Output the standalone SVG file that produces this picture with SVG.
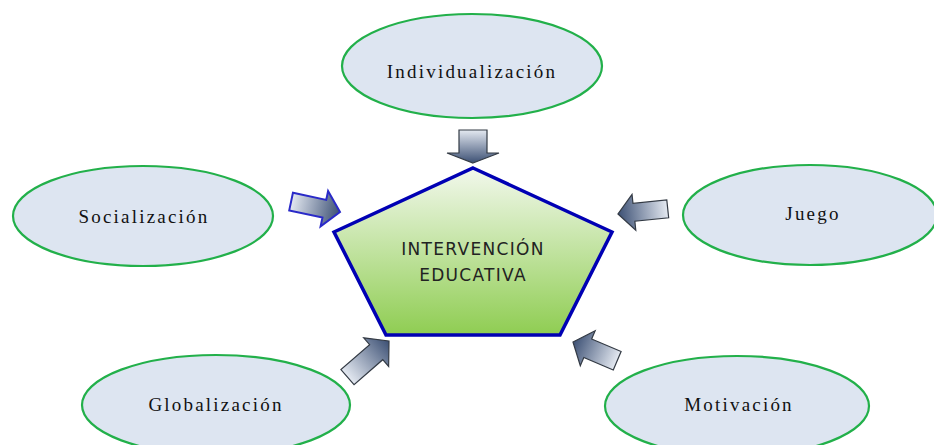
<svg xmlns="http://www.w3.org/2000/svg" width="934" height="445" viewBox="0 0 934 445">
<defs>
<linearGradient id="pentG" x1="0" y1="0" x2="0" y2="1">
<stop offset="0" stop-color="#f2f8ec"/>
<stop offset="1" stop-color="#8fcd52"/>
</linearGradient>
<linearGradient id="arrG" x1="0" y1="0" x2="1" y2="0">
<stop offset="0" stop-color="#e4e9f1"/>
<stop offset="1" stop-color="#3c5074"/>
</linearGradient>
<style>
.ell{fill:#dde5f1;stroke:#22b04a;stroke-width:2.2}
.lbl{font-family:"Liberation Serif","Times New Roman",serif;font-size:19px;letter-spacing:2.2px;fill:#111;text-anchor:middle}
.ctr{font-family:"DejaVu Sans","Liberation Sans",sans-serif;font-size:17px;letter-spacing:1.3px;fill:#222;text-anchor:middle}
.arr{fill:url(#arrG);stroke:#333a44;stroke-width:1.2;stroke-linejoin:miter}
.arrB{fill:url(#arrG);stroke:#2a2ac8;stroke-width:2;stroke-linejoin:miter}
</style>
</defs>
<rect width="934" height="445" fill="#ffffff"/>
<g id="connectors">
<path class="arr" transform="translate(473,163) rotate(90)" d="M0,0 L-10,-26 L-10,-14 L-33,-14 L-33,14 L-10,14 L-10,26 Z"/>
<path class="arrB" transform="translate(340,212) rotate(12)" d="M0,0 L-16,-18 L-16,-9 L-50,-9 L-50,9 L-16,9 L-16,18 Z"/>
<path class="arr" transform="translate(618,214) rotate(174)" d="M0,0 L-16,-18 L-16,-9 L-50,-9 L-50,9 L-16,9 L-16,18 Z"/>
<path class="arr" transform="translate(389,341) rotate(-41)" d="M0,0 L-17,-19 L-17,-10 L-55,-10 L-55,10 L-17,10 L-17,19 Z"/>
<path class="arr" transform="translate(573,342) rotate(203)" d="M0,0 L-16,-19 L-16,-10 L-48,-10 L-48,10 L-16,10 L-16,19 Z"/>
</g>
<g id="center">
<polygon points="473,168 612,232 560,335 386,335 334,232" fill="url(#pentG)" stroke="#0000b4" stroke-width="3.5" stroke-linejoin="miter"/>
<text class="ctr" x="473" y="255">INTERVENCIÓN</text>
<text class="ctr" x="473" y="281">EDUCATIVA</text>
</g>
<g id="individualizacion">
<ellipse class="ell" cx="472" cy="66" rx="130" ry="52"/>
<text class="lbl" x="472" y="78">Individualización</text>
</g>
<g id="socializacion">
<ellipse class="ell" cx="143" cy="216" rx="130" ry="50"/>
<text class="lbl" x="144" y="223">Socialización</text>
</g>
<g id="juego">
<ellipse class="ell" cx="810" cy="215" rx="127" ry="50"/>
<text class="lbl" x="813" y="220">Juego</text>
</g>
<g id="globalizacion">
<ellipse class="ell" cx="216" cy="405" rx="134" ry="50"/>
<text class="lbl" x="216" y="411">Globalización</text>
</g>
<g id="motivacion">
<ellipse class="ell" cx="737" cy="406" rx="132" ry="50"/>
<text class="lbl" x="739" y="411">Motivación</text>
</g>
</svg>
